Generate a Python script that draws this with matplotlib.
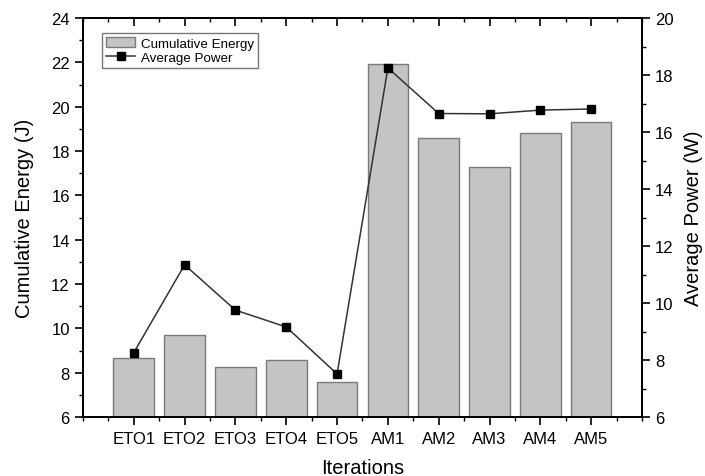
import matplotlib
matplotlib.use("Agg")
import matplotlib.pyplot as plt
from matplotlib.ticker import MultipleLocator, FixedLocator

plt.rcParams['font.family'] = ['Liberation Sans', 'DejaVu Sans']

categories = ["ETO1", "ETO2", "ETO3", "ETO4", "ETO5", "AM1", "AM2", "AM3", "AM4", "AM5"]
cumulative_energy = [8.66, 9.70, 8.24, 8.58, 7.59, 21.95, 18.58, 17.29, 18.81, 19.32]
average_power = [8.26, 11.34, 9.75, 9.16, 7.51, 18.25, 16.65, 16.64, 16.77, 16.81]

fig = plt.figure(figsize=(7.05, 4.77), dpi=100)
ax = fig.add_axes([0.1177, 0.1237, 0.7929, 0.8363])
ax2 = ax.twinx()

x = list(range(1, len(categories) + 1))
bars = ax.bar(x, cumulative_energy, width=0.8, color="#c4c4c4",
              edgecolor="#7a7a7a", linewidth=1.0, label="Cumulative Energy")
line, = ax2.plot(x, average_power, color="#333333", linewidth=1.1,
                 marker="s", markersize=6, markerfacecolor="black",
                 markeredgecolor="black", label="Average Power")

ax.set_xlim(0, 11)
ax.set_ylim(6, 24)
ax2.set_ylim(6, 20)

ax.set_xticks(x)
ax.set_xticklabels(categories)
ax.xaxis.set_minor_locator(FixedLocator([i + 0.5 for i in range(0, 11)] + [0, 11]))
ax.yaxis.set_major_locator(MultipleLocator(2))
ax.yaxis.set_minor_locator(MultipleLocator(1))
ax2.yaxis.set_major_locator(MultipleLocator(2))
ax2.yaxis.set_minor_locator(MultipleLocator(1))

ax.tick_params(axis="x", which="major", direction="out", length=6, width=1.2,
               labelsize=12, top=True, pad=4)
ax.tick_params(axis="x", which="minor", direction="out", length=3, width=1.0, top=True)
ax.tick_params(axis="y", which="major", direction="out", length=6, width=1.2, labelsize=12)
ax.tick_params(axis="y", which="minor", direction="out", length=3, width=1.0)
ax2.tick_params(axis="y", which="major", direction="out", length=6, width=1.2, labelsize=12)
ax2.tick_params(axis="y", which="minor", direction="out", length=3, width=1.0)
# top ticks point inward
for t in ax.xaxis.get_major_ticks() + ax.xaxis.get_minor_ticks():
    t.tick2line.set_marker(3)

for sp in ax.spines.values():
    sp.set_linewidth(1.3)
for sp in ax2.spines.values():
    sp.set_linewidth(1.3)

ax.set_xlabel("Iterations", fontsize=14.5, labelpad=9)
ax.set_ylabel("Cumulative Energy (J)", fontsize=14.5, labelpad=12)
ax2.set_ylabel("Average Power (W)", fontsize=14.5, labelpad=7)

leg = ax.legend([bars, line], ["Cumulative Energy", "Average Power"],
                loc="upper left", bbox_to_anchor=(0.034, 0.962), fontsize=9.6,
                frameon=True, fancybox=False, borderpad=0.3, labelspacing=0.15,
                handlelength=2.2, handletextpad=0.4, borderaxespad=0)
leg.get_frame().set_edgecolor("#555555")
leg.get_frame().set_linewidth(1.0)

fig.savefig("out.png", dpi=100)
